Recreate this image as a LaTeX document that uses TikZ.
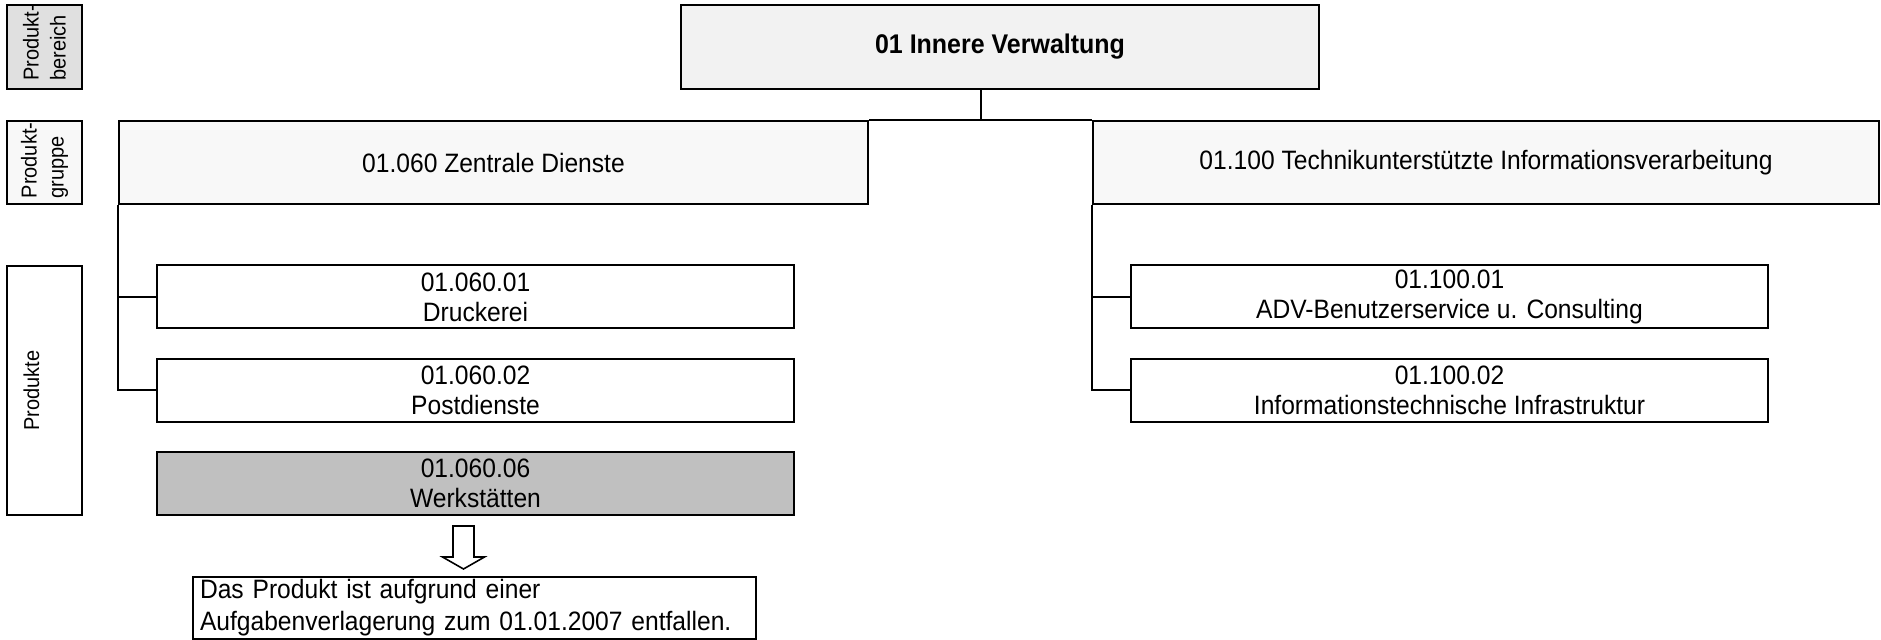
\documentclass[tikz,border=0pt]{standalone}
\usepackage{fontspec}
\setmainfont[FakeStretch=0.925]{Liberation Sans}
\usepackage{tikz}

\definecolor{bereichgray}{HTML}{E0E0E0}
\definecolor{topgray}{HTML}{F2F2F2}
\definecolor{gruppegray}{HTML}{F8F8F8}
\definecolor{gonegray}{HTML}{C0C0C0}

\begin{document}
\begin{tikzpicture}[x=0.5pt, y=-0.5pt, align=center, line width=1pt,
  box/.style={draw, inner sep=0pt, font=\fontsize{13.3}{15}\selectfont},
  sidebox/.style={draw, minimum width=37.5pt},
  sidetext/.style={rotate=90, align=left, font=\fontsize{10.8}{13.5}\selectfont},
  produkt/.style={box, minimum width=318.5pt, minimum height=31.5pt}]

\useasboundingbox (0,0) rectangle (1881,640);

% left legend
\node[sidebox, fill=bereichgray, minimum height=42pt] (bereich) at (44.5,47) {};
\node[sidetext] (bereichtext) at ([yshift=2pt]bereich.center) {Produkt-\\bereich};
\node[sidebox, fill=gruppegray, minimum height=41.5pt] (gruppe) at (44.5,162.5) {};
\node[sidetext] (gruppetext) at ([yshift=1pt]gruppe.center) {Produkt-\\gruppe};
\node[sidebox, minimum height=124.5pt] (produkte) at (44.5,390.5) {};
\node[sidetext] (produktetext) at ([xshift=-6.5pt]produkte.center) {Produkte};

% tree
\node[box, fill=topgray, minimum width=319pt, minimum height=42pt,
  font=\bfseries\fontsize{13.5}{15}\selectfont] (innere) at (1000,47) {01 Innere Verwaltung};
\node[box, fill=gruppegray, minimum width=374.5pt, minimum height=41.5pt] (zentrale) at (493.5,162.5) {01.060 Zentrale Dienste};
\node[box, fill=gruppegray, minimum width=393pt, minimum height=41.5pt] (technik) at (1486,162.5) {01.100 Technikunterstützte Informationsverarbeitung};

\node[produkt] (druckerei) at (475.5,297) {01.060.01\\Druckerei};
\node[produkt] (postdienste) at (475.5,390.5) {01.060.02\\Postdienste};
\node[produkt, fill=gonegray] (werkstaetten) at (475.5,483.5) {01.060.06\\Werkstätten};
\node[produkt] (benutzerservice) at (1449.5,297) {01.100.01\\ADV-Benutzerservice u. Consulting};
\node[produkt] (infrastruktur) at (1449.5,390.5) {01.100.02\\Informationstechnische Infrastruktur};

\node[box, align=left, minimum width=281.5pt, minimum height=31pt, inner xsep=3.5pt, text width=274.5pt,
  font=\fontsize{13.3}{16}\selectfont] (hinweis) at (474.5,608)
  {Das Produkt ist aufgrund einer\\Aufgabenverlagerung zum 01.01.2007 entfallen.};

\coordinate (gabel) at (981,121);
\draw (innere.south -| gabel) -- (gabel);
\draw (zentrale.north east) -- (technik.north west);
\draw (zentrale.south west) |- (druckerei.west);
\draw (zentrale.south west) |- (postdienste.west);
\draw (technik.south west) |- (benutzerservice.west);
\draw (technik.south west) |- (infrastruktur.west);

% hollow arrow
\coordinate (pfeil) at (453,526);
\draw[line width=0.8pt, fill=white] (pfeil) -- ++(21,0) -- ++(0,31) -- ++(10.5,0) -- ++(-21,12)
  -- ++(-21,-12) -- ++(10.5,0) -- cycle;

\end{tikzpicture}
\end{document}
